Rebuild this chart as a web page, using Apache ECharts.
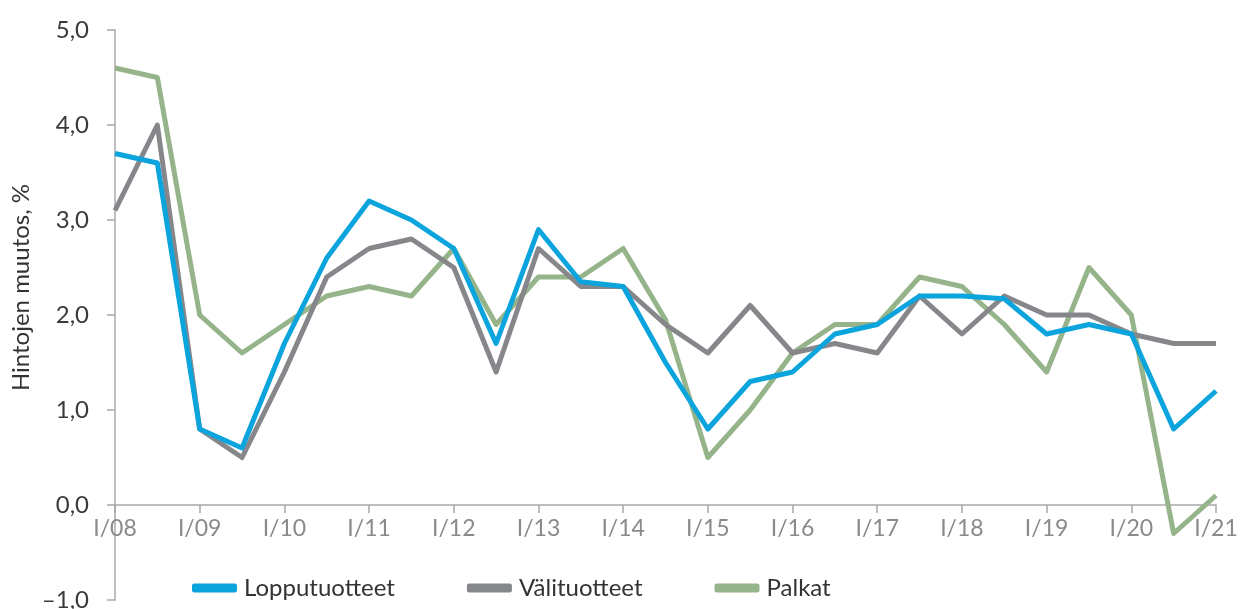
<!DOCTYPE html>
<html><head><meta charset="utf-8">
<script src="https://cdn.jsdelivr.net/npm/echarts@6/dist/echarts.min.js"></script>
<style>html,body{margin:0;padding:0;background:#fff}#c{width:1242px;height:609px}</style>
</head><body><div id="c"></div>
<script>
const categories = ['I/08','III/08','I/09','III/09','I/10','III/10','I/11','III/11','I/12','III/12','I/13','III/13','I/14','III/14','I/15','III/15','I/16','III/16','I/17','III/17','I/18','III/18','I/19','III/19','I/20','III/20','I/21'];
const lopputuotteet = [3.7,3.6,0.8,0.6,1.7,2.6,3.2,3.0,2.7,1.7,2.9,2.35,2.3,1.5,0.8,1.3,1.4,1.8,1.9,2.2,2.2,2.17,1.8,1.9,1.8,0.8,1.2];
const valituotteet = [3.1,4.0,0.8,0.5,1.4,2.4,2.7,2.8,2.5,1.4,2.7,2.3,2.3,1.9,1.6,2.1,1.6,1.7,1.6,2.2,1.8,2.2,2.0,2.0,1.8,1.7,1.7];
const palkat = [4.6,4.5,2.0,1.6,1.9,2.2,2.3,2.2,2.7,1.9,2.4,2.4,2.7,1.95,0.5,1.0,1.6,1.9,1.9,2.4,2.3,1.9,1.4,2.5,2.0,-0.3,0.1];
const seriesNames = ['Lopputuotteet','Välituotteet','Palkat'];
const colors = ['#0ca4dc','#86878b','#96b48a'];
const yTitle = 'Hintojen muutos, %';

const font = 'Lato, "Open Sans", sans-serif';
const chart = echarts.init(document.getElementById('c'));
chart.setOption({
  animation:false,
  grid:{left:115,right:26,top:30,bottom:9,containLabel:false,outerBoundsMode:'none'},
  legend:{
    left:187, top:571, itemWidth:45, itemHeight:9, itemGap:72,
    icon:'roundRect',
    textStyle:{fontFamily:font,fontSize:24,color:'#333',padding:[0,0,0,2]},
    data:seriesNames
  },
  graphic:[{type:'text',left:9,top:184,rotation:Math.PI/2,
    style:{text:yTitle,font:'24px '+font,fill:'#333'}}],
  xAxis:{
    type:'category',data:categories,boundaryGap:false,
    offset:-95,
    axisLine:{onZero:false,lineStyle:{color:'#a8a8a8',width:1.5}},
    axisTick:{show:true,interval:1,length:8,lineStyle:{color:'#a8a8a8',width:1.5}},
    axisLabel:{interval:1,color:'#8a8a8a',fontFamily:font,fontSize:23,margin:12},
    splitLine:{show:false}
  },
  yAxis:{
    type:'value',min:-1,max:5,interval:1,
    axisLine:{show:true,lineStyle:{color:'#a8a8a8',width:1.5}},
    axisTick:{show:true,length:8,lineStyle:{color:'#a8a8a8',width:1.5}},
    axisLabel:{color:'#3a3a3a',fontFamily:font,fontSize:24,margin:26,
      formatter:v=>v.toFixed(1).replace('.',',').replace('-','\u2013')},
    splitLine:{show:false}
  },
  series:[lopputuotteet,valituotteet,palkat].map((d,i)=>({
    name:seriesNames[i],type:'line',data:d,showSymbol:false,symbol:'none',
    lineStyle:{width:5,color:colors[i],join:'round'},itemStyle:{color:colors[i]},z:3-i
  }))
});
</script></body></html>
